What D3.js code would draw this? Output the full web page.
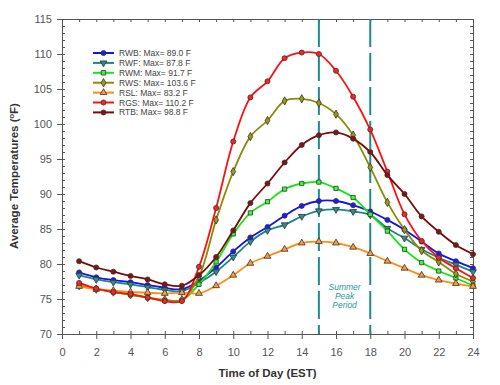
<!DOCTYPE html>
<html>
<head>
<meta charset="utf-8">
<script src="https://cdn.jsdelivr.net/npm/d3@7"></script>
<style>
  body { margin: 0; background: #fff; }
  text { font-family: "Liberation Sans", Arial, sans-serif; }
</style>
</head>
<body>
<div id="vis"></div>
<script>
// frame
const FRAME_WIDTH = 500;
const FRAME_HEIGHT = 385;
const MARGINS = {left: 62, right: 27, top: 19, bottom: 51};
const VIS_WIDTH = FRAME_WIDTH - MARGINS.left - MARGINS.right;
const VIS_HEIGHT = FRAME_HEIGHT - MARGINS.top - MARGINS.bottom;

// data
const hours = [1, 2, 3, 4, 5, 6, 7, 8, 9, 10, 11, 12, 13, 14, 15, 16, 17, 18, 19, 20, 21, 22, 23, 24];
const rwb = [78.8, 78.1, 77.7, 77.4, 77.0, 76.6, 76.4, 77.6, 79.5, 81.8, 83.8, 85.3, 86.9, 88.3, 89.0, 89.0, 88.4, 87.5, 86.3, 84.9, 83.2, 81.5, 80.4, 79.4];
const rwf = [78.4, 77.8, 77.4, 77.1, 76.7, 76.3, 76.1, 77.3, 78.9, 81.0, 83.2, 84.8, 85.6, 86.8, 87.6, 87.8, 87.5, 87.0, 85.1, 83.7, 82.1, 80.9, 79.9, 78.9];
const rwm = [77.0, 76.4, 76.0, 75.6, 75.2, 74.8, 74.8, 77.1, 80.3, 84.3, 87.3, 88.9, 90.7, 91.5, 91.7, 90.8, 89.5, 87.1, 84.7, 82.1, 80.2, 79.0, 78.0, 76.9];
const rws = [76.9, 76.4, 76.0, 75.6, 75.2, 74.9, 74.9, 78.2, 86.3, 93.2, 98.2, 100.5, 103.3, 103.6, 103.0, 101.4, 98.4, 93.8, 88.8, 84.9, 81.9, 80.3, 78.6, 77.5];
const rsl = [76.8, 76.4, 76.2, 76.0, 75.9, 75.8, 75.9, 75.8, 76.9, 78.4, 80.1, 81.1, 82.1, 83.0, 83.2, 83.0, 82.4, 81.5, 80.4, 79.4, 78.4, 77.7, 77.2, 76.8];
const rgs = [77.3, 76.5, 76.0, 75.7, 75.2, 74.7, 74.7, 79.6, 88.0, 97.5, 103.8, 106.1, 109.4, 110.2, 110.0, 107.6, 103.9, 99.2, 93.2, 87.1, 83.3, 80.9, 79.4, 78.0];
const rtb = [80.4, 79.5, 78.9, 78.3, 77.8, 77.1, 76.9, 78.4, 81.0, 84.8, 88.7, 91.5, 94.5, 97.0, 98.4, 98.8, 97.9, 96.0, 92.7, 90.0, 86.8, 84.6, 82.7, 81.4];

const seriesNames = ["RWB", "RWF", "RWM", "RWS", "RSL", "RGS", "RTB"];
const seriesMax = ["89.0", "87.8", "91.7", "103.6", "83.2", "110.2", "98.8"];
const xTicks = [0, 2, 4, 6, 8, 10, 12, 14, 16, 18, 20, 22, 24];
const yTicks = [70, 75, 80, 85, 90, 95, 100, 105, 110, 115];
const peakHours = [15, 18];
const peakLabel = ["Summer", "Peak", "Period"];

const seriesValues = [rwb, rwf, rwm, rws, rsl, rgs, rtb];
const lineColors = ["#1414e6", "#1f8585", "#14e614", "#8c8c0a", "#ff8c14", "#ff1010", "#7a0a0a"];
const fillColors = ["#1a1aff", "#2a8f8f", "#33ff33", "#9a9a14", "#ff9933", "#ff2020", "#8a1010"];
const symbols = [d3.symbolCircle, d3.symbolTriangle, d3.symbolSquare, d3.symbolDiamond,
                 d3.symbolTriangle, d3.symbolCircle, d3.symbolCircle];
const rotations = [0, 180, 0, 0, 0, 0, 0];

const FRAME = d3.select("#vis")
                .append("svg")
                  .attr("width", FRAME_WIDTH)
                  .attr("height", FRAME_HEIGHT);

const X_SCALE = d3.scaleLinear().domain([0, 24]).range([0, VIS_WIDTH]);
const Y_SCALE = d3.scaleLinear().domain([70, 115]).range([VIS_HEIGHT, 0]);

const G = FRAME.append("g")
               .attr("transform", "translate(" + MARGINS.left + "," + MARGINS.top + ")");

// minor ticks (inside) on all four sides
const xMinor = d3.range(0, 25, 1);
const yMinor = d3.range(70, 116, 1);
function minor(g) {
  g.selectAll("text").remove();
  g.select(".domain").attr("stroke", "#555");
  g.selectAll("line").attr("stroke", "#555");
}
G.append("g").attr("transform", "translate(0," + VIS_HEIGHT + ")")
  .call(d3.axisBottom(X_SCALE).tickValues(xMinor).tickSize(-3).tickSizeOuter(0)).call(minor);
G.append("g")
  .call(d3.axisTop(X_SCALE).tickValues(xMinor).tickSize(-3).tickSizeOuter(0)).call(minor);
G.append("g")
  .call(d3.axisLeft(Y_SCALE).tickValues(yMinor).tickSize(-3).tickSizeOuter(0)).call(minor);
G.append("g").attr("transform", "translate(" + VIS_WIDTH + ",0)")
  .call(d3.axisRight(Y_SCALE).tickValues(yMinor).tickSize(-3).tickSizeOuter(0)).call(minor);

// major ticks with labels
function major(g) {
  g.select(".domain").attr("stroke", "#555");
  g.selectAll("line").attr("stroke", "#555");
  g.selectAll("text").attr("fill", "#555").attr("font-size", "11px")
    .attr("font-family", "Liberation Sans, Arial, sans-serif");
}
G.append("g").attr("transform", "translate(0," + VIS_HEIGHT + ")")
  .call(d3.axisBottom(X_SCALE).tickValues(xTicks).tickSize(5).tickPadding(9).tickSizeOuter(0)).call(major);
G.append("g")
  .call(d3.axisLeft(Y_SCALE).tickValues(yTicks).tickSize(5).tickPadding(5).tickSizeOuter(0)).call(major);

// summer peak period lines
G.selectAll(".peak")
  .data(peakHours)
  .enter()
  .append("line")
    .attr("x1", d => X_SCALE(d))
    .attr("x2", d => X_SCALE(d))
    .attr("y1", 0)
    .attr("y2", VIS_HEIGHT)
    .attr("stroke", "#1e8c8c")
    .attr("stroke-width", 2)
    .attr("stroke-dasharray", "28,6");

G.append("text")
  .attr("x", X_SCALE((peakHours[0] + peakHours[1]) / 2))
  .attr("y", Y_SCALE(76.3))
  .attr("text-anchor", "middle")
  .attr("font-size", "8.5px")
  .attr("font-style", "italic")
  .attr("fill", "#2a9a9a")
  .selectAll("tspan")
  .data(peakLabel)
  .enter()
  .append("tspan")
    .attr("x", X_SCALE((peakHours[0] + peakHours[1]) / 2))
    .attr("dy", (d, i) => i === 0 ? 0 : 9)
    .text(d => d);

// series lines and markers
const line = d3.line()
               .x((d, i) => X_SCALE(hours[i]))
               .y(d => Y_SCALE(d))
               .curve(d3.curveCatmullRom);

seriesValues.forEach((vals, k) => {
  G.append("path")
    .datum(vals)
    .attr("d", line)
    .attr("fill", "none")
    .attr("stroke", lineColors[k])
    .attr("stroke-width", 1.8);

  G.selectAll(".pt" + k)
    .data(vals)
    .enter()
    .append("path")
      .attr("d", d3.symbol().type(symbols[k]).size(k === 2 ? 18 : 20))
      .attr("transform", (d, i) => "translate(" + X_SCALE(hours[i]) + "," + Y_SCALE(d) + ") rotate(" + rotations[k] + ")")
      .attr("fill", fillColors[k])
      .attr("stroke", "#333")
      .attr("stroke-width", 0.8);
});

// legend
const LEG = FRAME.append("g").attr("transform", "translate(93,53)");
seriesNames.forEach((name, k) => {
  const row = LEG.append("g").attr("transform", "translate(0," + (k * 9.9) + ")");
  row.append("line")
    .attr("x1", 0).attr("x2", 21).attr("y1", 0).attr("y2", 0)
    .attr("stroke", lineColors[k]).attr("stroke-width", 2);
  row.append("path")
    .attr("d", d3.symbol().type(symbols[k]).size(20))
    .attr("transform", "translate(10.5,0) rotate(" + rotations[k] + ")")
    .attr("fill", fillColors[k])
    .attr("stroke", "#333")
    .attr("stroke-width", 0.8);
  row.append("text")
    .attr("x", 26)
    .attr("y", 3)
    .attr("font-size", "8.5px")
    .attr("fill", "#444")
    .text(name + ": Max= " + seriesMax[k] + " F");
});

// axis titles
FRAME.append("text")
  .attr("x", MARGINS.left + VIS_WIDTH / 2)
  .attr("y", 377)
  .attr("text-anchor", "middle")
  .attr("font-size", "11.5px")
  .attr("font-weight", "bold")
  .attr("fill", "#333")
  .text("Time of Day (EST)");

const yTitle = FRAME.append("text")
  .attr("transform", "translate(18,176) rotate(-90)")
  .attr("text-anchor", "middle")
  .attr("font-size", "11.5px")
  .attr("font-weight", "bold")
  .attr("fill", "#333");
yTitle.append("tspan").text("Average Temperatures (");
yTitle.append("tspan").attr("font-size", "7.5px").attr("dy", -4).text("o");
yTitle.append("tspan").attr("dy", 4).text("F)");
</script>
</body>
</html>
